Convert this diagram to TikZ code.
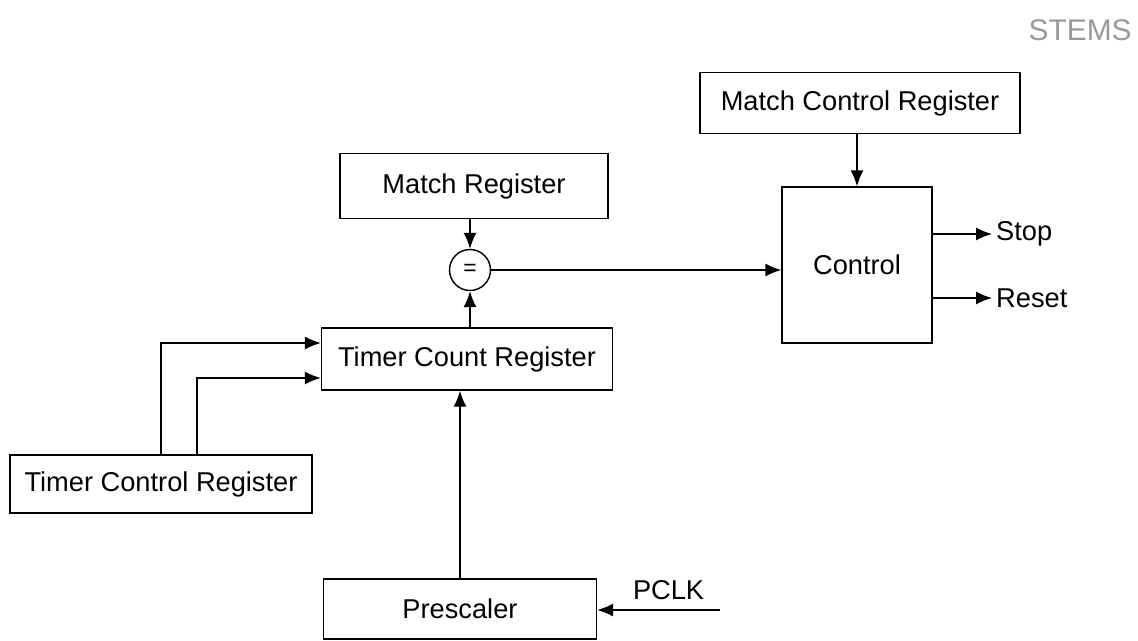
\documentclass[tikz,border=0pt]{standalone}
\usepackage{fontspec}
\setmainfont{Liberation Sans}
\usetikzlibrary{arrows.meta}

\tikzset{
  reg/.style={draw, line width=0.8pt, inner sep=0pt, align=center},
  lbl/.style={font=\fontsize{15.5}{18}\selectfont}
}

\begin{document}
\begin{tikzpicture}[x=0.02cm, y=-0.02cm, >={Latex[length=3.2mm, width=2.6mm]}, line width=0.8pt]
\useasboundingbox (0,0) rectangle (1138,641);
% scanned page header
\node[lbl, text=gray!80, font=\fontsize{17}{20}\selectfont, anchor=east, inner sep=1pt] (hdr) at (1134,30) {STEMS};
% registers and blocks
\node[reg, lbl, minimum width=6.4cm, minimum height=1.22cm] (mcr) at (860,103) {Match Control Register};
\node[reg, lbl, minimum width=5.36cm, minimum height=1.3cm] (mreg) at (474,186) {Match Register};
\node[draw, circle, minimum size=0.82cm, inner sep=0pt, font=\fontsize{13}{14}\selectfont] (eq) at (470,270) {=};
\node[reg, lbl, minimum width=3cm, minimum height=3.12cm] (ctrl) at (857,265) {Control};
\node[reg, lbl, minimum width=5.82cm, minimum height=1.24cm] (tcr) at (467,359) {Timer Count Register};
\node[reg, lbl, minimum width=6.04cm, minimum height=1.16cm] (tctl) at (161,484) {Timer Control Register};
\node[reg, lbl, minimum width=5.46cm, minimum height=1.2cm] (pre) at (460,609) {Prescaler};
\coordinate (stop) at (992,234);
\coordinate (reset) at (992,298);
\coordinate (pclk) at (720,610);
% connectors
\draw[->] (mcr.south -| ctrl.north) -- (ctrl.north);
\draw[->] (eq.north |- mreg.south) -- (eq.north);
\draw[->] (eq.east) -- (eq.east -| ctrl.west);
\draw[->] (eq.south |- tcr.north) -- (eq.south);
\draw[->] (stop -| ctrl.east) -- (stop) node[lbl, right, inner sep=2pt] {Stop};
\draw[->] (reset -| ctrl.east) -- (reset) node[lbl, right, inner sep=2pt] {Reset};
\draw[->] (tctl.north) |- ([yshift=0.32cm]tcr.west);
\draw[->] ([xshift=0.72cm]tctl.north) |- ([yshift=-0.38cm]tcr.west);
\draw[->] (pre.north) -- (pre.north |- tcr.south);
\draw[->] (pclk) -- (pclk -| pre.east) node[lbl, midway, above=2pt, xshift=0.2cm] {PCLK};
\end{tikzpicture}
\end{document}
